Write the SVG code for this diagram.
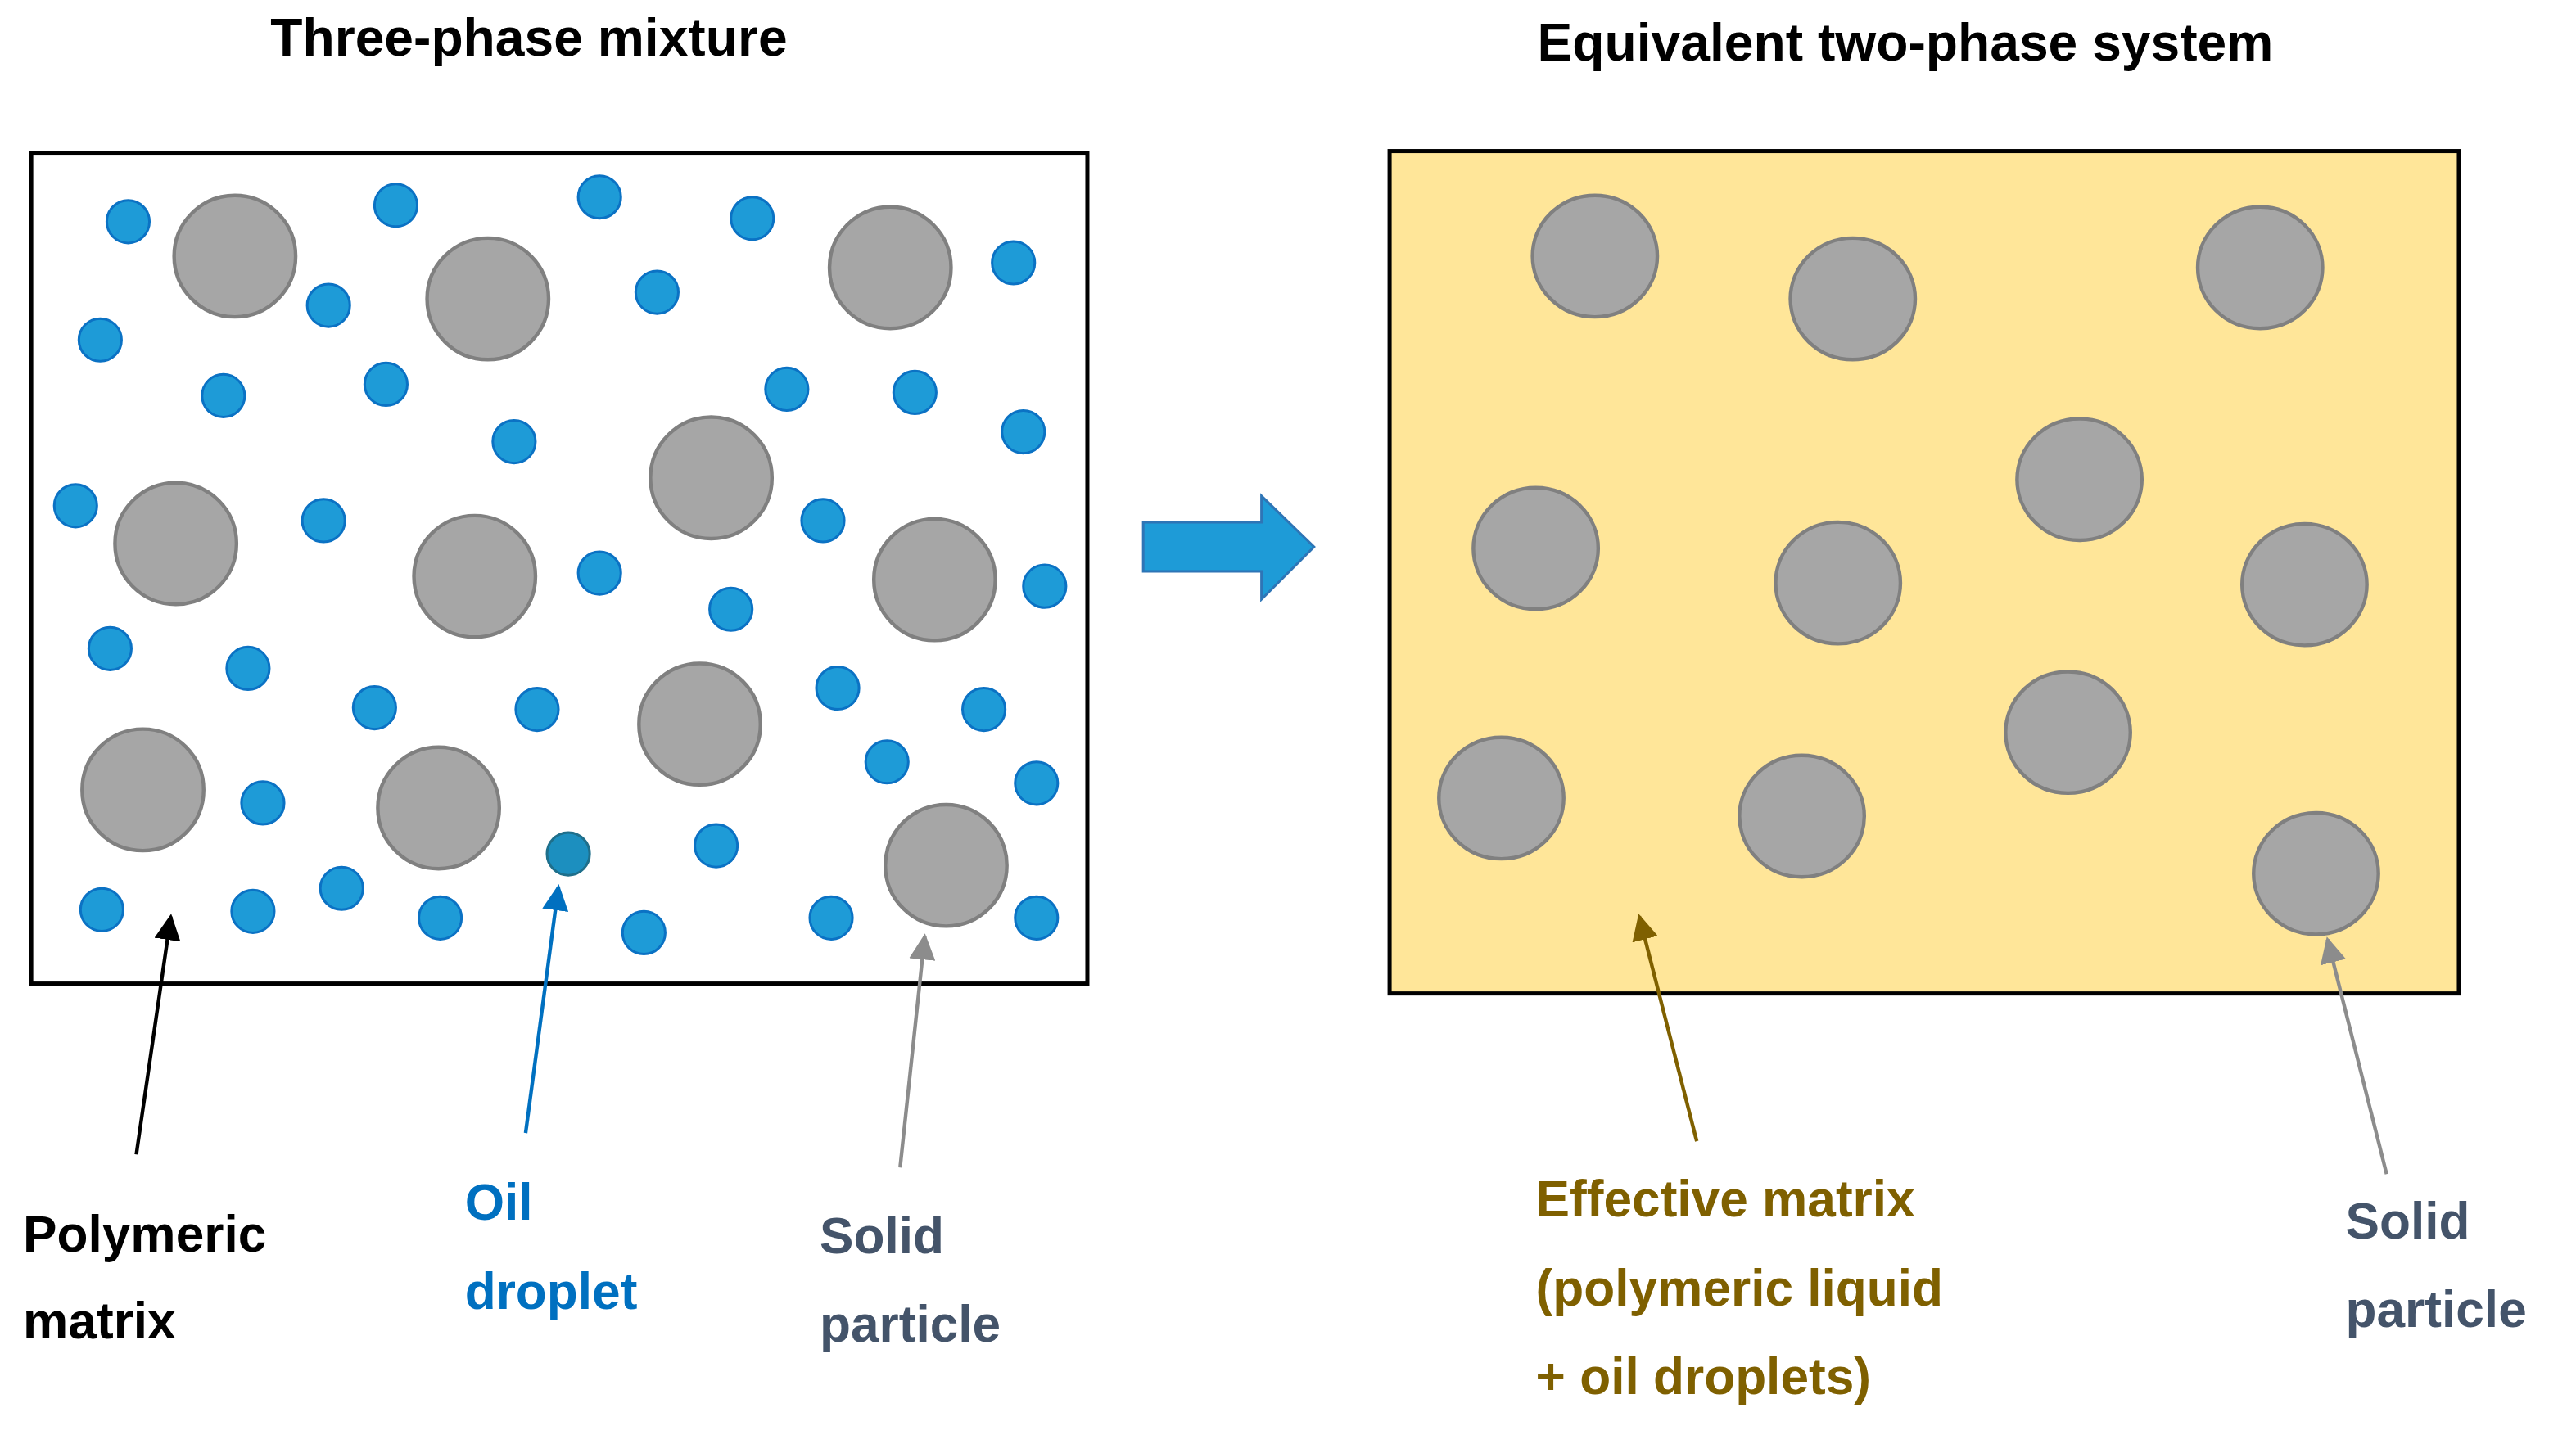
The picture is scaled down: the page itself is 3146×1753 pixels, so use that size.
<svg xmlns="http://www.w3.org/2000/svg" width="3146" height="1753" viewBox="0 0 3146 1753">
<defs>
<style>
text{font-family:"Liberation Sans",Arial,sans-serif;font-weight:bold}
.t{font-size:32px;fill:#000;text-anchor:middle}
.l{font-size:31px}
.g{fill:#A6A6A6;stroke:#808080;stroke-width:2.2}
.b{fill:#1E9BD7;stroke:#0B72C4;stroke-width:1.5}
</style>
<marker id="mk" viewBox="0 0 10 10" refX="9" refY="5" markerWidth="5" markerHeight="5" orient="auto" markerUnits="userSpaceOnUse"><path d="M0,0L10,5L0,10z" fill="context-stroke"/></marker>
<marker id="mBk" viewBox="0 0 10 10" refX="9" refY="5" markerWidth="16" markerHeight="16" orient="auto" markerUnits="userSpaceOnUse"><path d="M0,0L10,5L0,10z" fill="#000"/></marker>
<marker id="mBl" viewBox="0 0 10 10" refX="9" refY="5" markerWidth="16" markerHeight="16" orient="auto" markerUnits="userSpaceOnUse"><path d="M0,0L10,5L0,10z" fill="#0070C0"/></marker>
<marker id="mGr" viewBox="0 0 10 10" refX="9" refY="5" markerWidth="16" markerHeight="16" orient="auto" markerUnits="userSpaceOnUse"><path d="M0,0L10,5L0,10z" fill="#8C8C8C"/></marker>
<marker id="mBr" viewBox="0 0 10 10" refX="9" refY="5" markerWidth="16" markerHeight="16" orient="auto" markerUnits="userSpaceOnUse"><path d="M0,0L10,5L0,10z" fill="#7F6000"/></marker>
</defs>
<rect width="3146" height="1753" fill="#fff"/>
<g transform="scale(2.006)">
<g id="titles">
<text class="t" x="322" y="34">Three-phase mixture</text>
<text class="t" x="1160" y="37">Equivalent two-phase system</text>
</g>
<g id="left-box">
<rect x="19" y="93" width="643" height="506" fill="#fff" stroke="#000" stroke-width="2.5"/>
<g>
<circle class="b" cx="78" cy="135" r="13"/><circle class="b" cx="241" cy="125" r="13"/><circle class="b" cx="365" cy="120" r="13"/><circle class="b" cx="458" cy="133" r="13"/><circle class="b" cx="617" cy="160" r="13"/><circle class="b" cx="200" cy="186" r="13"/><circle class="b" cx="400" cy="178" r="13"/><circle class="b" cx="61" cy="207" r="13"/><circle class="b" cx="136" cy="241" r="13"/><circle class="b" cx="235" cy="234" r="13"/><circle class="b" cx="479" cy="237" r="13"/><circle class="b" cx="557" cy="239" r="13"/><circle class="b" cx="623" cy="263" r="13"/><circle class="b" cx="313" cy="269" r="13"/><circle class="b" cx="46" cy="308" r="13"/><circle class="b" cx="197" cy="317" r="13"/><circle class="b" cx="501" cy="317" r="13"/><circle class="b" cx="365" cy="349" r="13"/><circle class="b" cx="636" cy="357" r="13"/><circle class="b" cx="445" cy="371" r="13"/><circle class="b" cx="67" cy="395" r="13"/><circle class="b" cx="151" cy="407" r="13"/><circle class="b" cx="228" cy="431" r="13"/><circle class="b" cx="327" cy="432" r="13"/><circle class="b" cx="510" cy="419" r="13"/><circle class="b" cx="599" cy="432" r="13"/><circle class="b" cx="540" cy="464" r="13"/><circle class="b" cx="631" cy="477" r="13"/><circle class="b" cx="160" cy="489" r="13"/><circle cx="346" cy="520" r="13" fill="#1C8FBF" stroke="#1F6F8B" stroke-width="1.5"/><circle class="b" cx="436" cy="515" r="13"/><circle class="b" cx="62" cy="554" r="13"/><circle class="b" cx="154" cy="555" r="13"/><circle class="b" cx="208" cy="541" r="13"/><circle class="b" cx="268" cy="559" r="13"/><circle class="b" cx="392" cy="568" r="13"/><circle class="b" cx="506" cy="559" r="13"/><circle class="b" cx="631" cy="559" r="13"/>
</g>
<g>
<ellipse class="g" cx="143" cy="156" rx="37" ry="37"/><ellipse class="g" cx="297" cy="182" rx="37" ry="37"/><ellipse class="g" cx="542" cy="163" rx="37" ry="37"/><ellipse class="g" cx="433" cy="291" rx="37" ry="37"/><ellipse class="g" cx="107" cy="331" rx="37" ry="37"/><ellipse class="g" cx="289" cy="351" rx="37" ry="37"/><ellipse class="g" cx="569" cy="353" rx="37" ry="37"/><ellipse class="g" cx="426" cy="441" rx="37" ry="37"/><ellipse class="g" cx="87" cy="481" rx="37" ry="37"/><ellipse class="g" cx="267" cy="492" rx="37" ry="37"/><ellipse class="g" cx="576" cy="527" rx="37" ry="37"/>
</g>
</g>
<g id="transform-arrow">
<path d="M696,318H768V302L800,333L768,365V348H696Z" fill="#1E9BD7" stroke="#2E75B6" stroke-width="1.5"/>
</g>
<g id="right-box">
<rect x="846" y="92" width="651" height="513" fill="#FFE699" stroke="#000" stroke-width="2.5"/>
<ellipse class="g" cx="971" cy="156" rx="38" ry="37"/><ellipse class="g" cx="1128" cy="182" rx="38" ry="37"/><ellipse class="g" cx="1376" cy="163" rx="38" ry="37"/><ellipse class="g" cx="1266" cy="292" rx="38" ry="37"/><ellipse class="g" cx="935" cy="334" rx="38" ry="37"/><ellipse class="g" cx="1119" cy="355" rx="38" ry="37"/><ellipse class="g" cx="1403" cy="356" rx="38" ry="37"/><ellipse class="g" cx="1259" cy="446" rx="38" ry="37"/><ellipse class="g" cx="914" cy="486" rx="38" ry="37"/><ellipse class="g" cx="1097" cy="497" rx="38" ry="37"/><ellipse class="g" cx="1410" cy="532" rx="38" ry="37"/>
</g>
<g id="connectors" stroke-width="2.2" fill="none">
<line x1="83" y1="703" x2="104" y2="558" stroke="#000" marker-end="url(#mBk)"/>
<line x1="320" y1="690" x2="340" y2="540" stroke="#0070C0" marker-end="url(#mBl)"/>
<line x1="548" y1="711" x2="563" y2="570" stroke="#8C8C8C" marker-end="url(#mGr)"/>
<line x1="1033" y1="695" x2="998" y2="558" stroke="#7F6000" marker-end="url(#mBr)"/>
<line x1="1453" y1="715" x2="1417" y2="572" stroke="#8C8C8C" marker-end="url(#mGr)"/>
</g>
<g id="labels">
<text class="l" x="14" y="762" fill="#000">Polymeric</text>
<text class="l" x="14" y="815" fill="#000">matrix</text>
<text class="l" x="283" y="743" fill="#0070C0">Oil</text>
<text class="l" x="283" y="797" fill="#0070C0">droplet</text>
<text class="l" x="499" y="763" fill="#44546A">Solid</text>
<text class="l" x="499" y="817" fill="#44546A">particle</text>
<text class="l" x="935" y="741" fill="#7F6000">Effective matrix</text>
<text class="l" x="935" y="795" fill="#7F6000">(polymeric liquid</text>
<text class="l" x="935" y="849" fill="#7F6000">+ oil droplets)</text>
<text class="l" x="1428" y="754" fill="#44546A">Solid</text>
<text class="l" x="1428" y="808" fill="#44546A">particle</text>
</g>
</g>
</svg>
